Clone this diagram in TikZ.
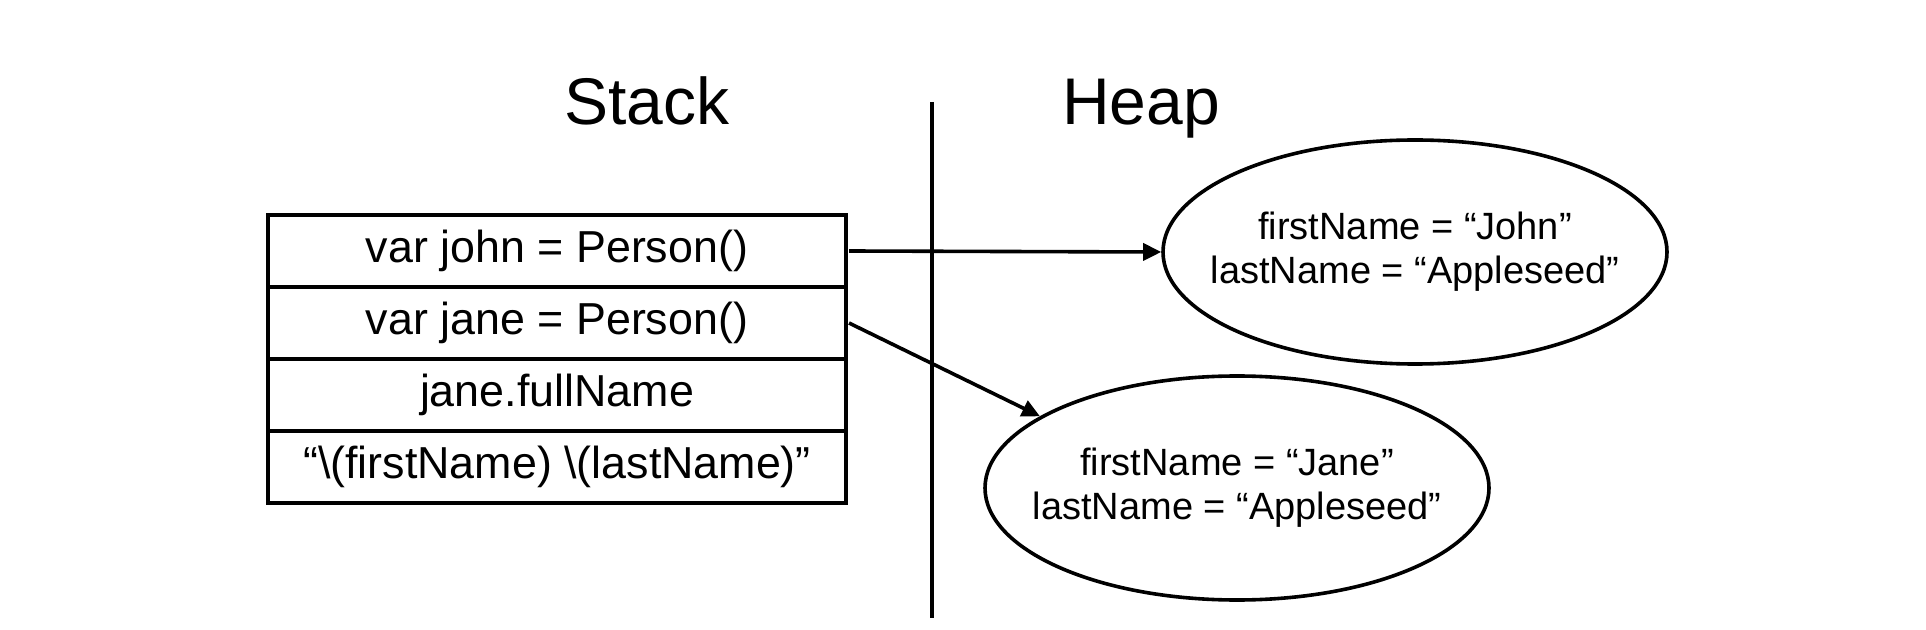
\documentclass[tikz,border=0pt]{standalone}
\usepackage{fontspec}
\setmainfont{Liberation Sans}
\usetikzlibrary{arrows.meta,positioning,shapes.geometric}

\begin{document}
\begin{tikzpicture}[x=0.5pt, y=-0.5pt, node distance=0pt,
  every node/.style={font=\fontsize{22.4}{26}\selectfont},
  stackrow/.style={draw, line width=1.8pt, outer sep=0pt, inner sep=0pt, minimum width=289pt, minimum height=36pt},
  heapobj/.style={draw, ellipse, line width=1.8pt, inner ysep=0pt, inner xsep=-14pt, minimum width=252pt, minimum height=112pt, align=center, font=\fontsize{19}{22}\selectfont},
  title/.style={anchor=base, font=\fontsize{33}{40}\selectfont},
  ref/.style={-{Triangle[length=9pt,width=8.5pt]}, line width=1.8pt}]
  \useasboundingbox (0,0) rectangle (1926,630);
  \node[title] (stack) at (647,125) {Stack};
  \node[title] (heap) at (1141,125) {Heap};
  \coordinate (divtop) at (932,102);
  \coordinate (divbot) at (932,618);
  \draw[line width=1.8pt] (divtop) -- (divbot);
  % the stack frame
  \node[stackrow] (r1) at (557,251) {var john = Person()};
  \node[stackrow, below=of r1] (r2) {var jane = Person()};
  \node[stackrow, below=of r2] (r3) {jane.fullName};
  \node[stackrow, below=of r3] (r4) {“\textbackslash(firstName) \textbackslash(lastName)”};
  % objects on the heap
  \node[heapobj] (john) at (1415,252) {firstName = “John”\\lastName = “Appleseed”};
  \node[heapobj] (jane) at (1237,488) {firstName = “Jane”\\lastName = “Appleseed”};
  \draw[ref] ([xshift=1.5pt]r1.east) -- (john.west);
  \draw[ref] ([xshift=1.5pt]r2.east) -- (jane.160);
\end{tikzpicture}
\end{document}
